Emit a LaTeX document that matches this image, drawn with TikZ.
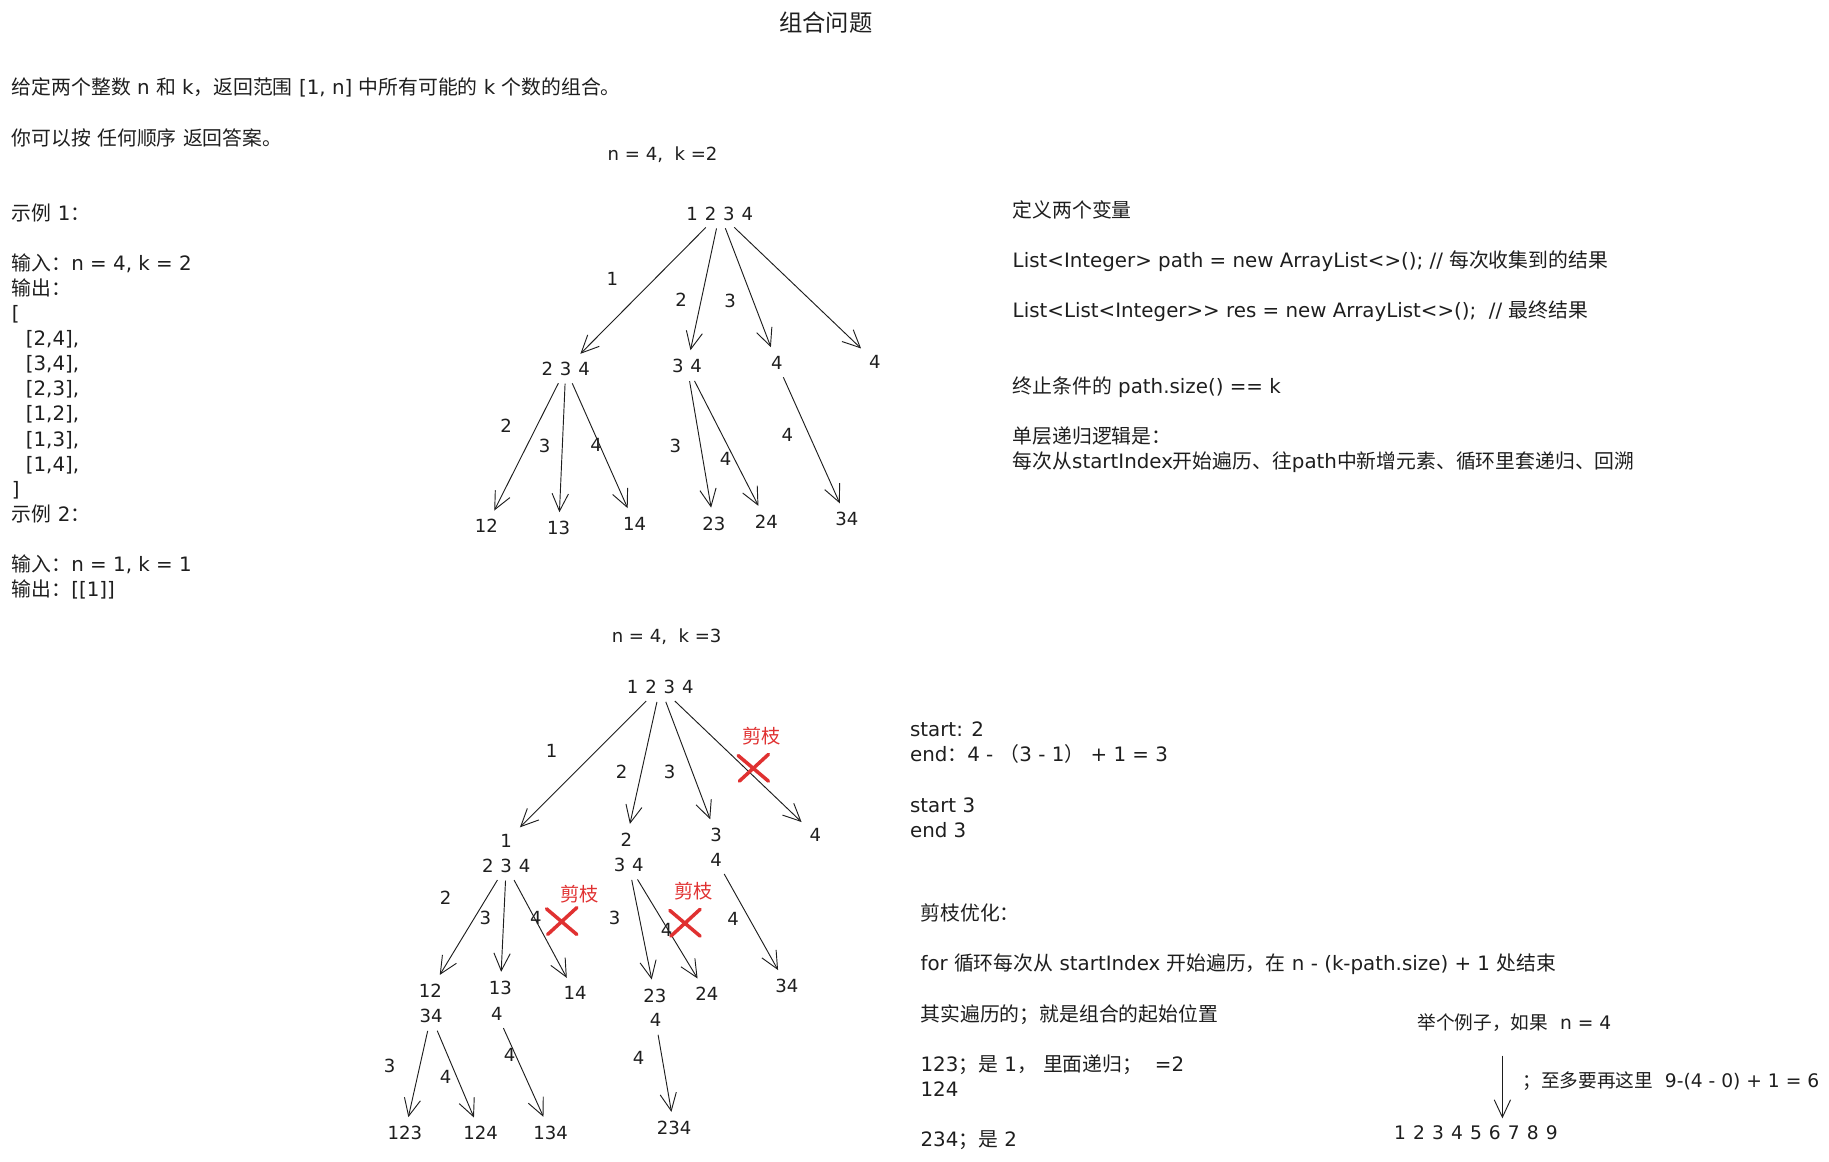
\documentclass[tikz,border=0pt]{standalone}
\usepackage{fontspec}
\setmainfont{DejaVu Sans}
\newfontfamily\cjkfont{Noto Sans CJK SC}
% switch to the CJK family for CJK characters and full-width punctuation
\XeTeXinterchartokenstate=1
\newXeTeXintercharclass\cjkclass
\newcount\cjkcode
\def\setcjkrange#1#2{\cjkcode=#1\relax
  \loop\XeTeXcharclass\cjkcode=\cjkclass\relax
  \ifnum\cjkcode<#2\advance\cjkcode by 1\repeat}
\setcjkrange{"3000}{"303F}
\setcjkrange{"4E00}{"9FFF}
\setcjkrange{"FF00}{"FFEF}
\XeTeXinterchartoks 0 \cjkclass = {\cjkfont}
\XeTeXinterchartoks 4095 \cjkclass = {\cjkfont}
\XeTeXinterchartoks \cjkclass 0 = {\normalfont}
\XeTeXinterchartoks \cjkclass 4095 = {\normalfont}
\usetikzlibrary{arrows.meta}
\definecolor{ink}{HTML}{1E1E1E}
\definecolor{cutred}{HTML}{E03131}
\newcommand\gap{\hspace{0.38em}}
\tikzset{
  txt/.style={font=\fontsize{17}{21.5}\selectfont, text=ink, inner sep=0pt, anchor=north west, align=left},
  line/.style={font=\fontsize{16}{21.5}\selectfont, text=ink, inner sep=0pt, anchor=west},
  num/.style={font=\fontsize{15.5}{20}\selectfont, text=ink, inner sep=1pt, outer sep=3pt},
  arr/.style={draw=ink, line width=0.8pt, -{Straight Barb[length=15pt,width=14pt]}, shorten <=3pt, shorten >=4pt},
  cut/.style={draw=cutred, line width=3pt, line cap=round},
  cutlbl/.style={font=\fontsize{16.5}{20}\selectfont, text=cutred, inner sep=0pt},
}
\begin{document}
\begin{tikzpicture}[x=1pt,y=-1pt]
\useasboundingbox (0,0) rectangle (1568,996);
\node[font=\fontsize{20}{24}\selectfont, text=ink] (title) at (708,19) {组合问题};

% problem statement
\node[txt] (intro) at (10,66.8) {给定两个整数 n 和 k，返回范围 [1, n] 中所有可能的 k 个数的组合。\\
\\
你可以按 任何顺序 返回答案。\\
\\
\\
示例 1：\\
\\
输入：n = 4, k = 2\\
输出：\\
{[}\\
\hspace*{12pt}{[}2,4],\\
\hspace*{12pt}{[}3,4],\\
\hspace*{12pt}{[}2,3],\\
\hspace*{12pt}{[}1,2],\\
\hspace*{12pt}{[}1,3],\\
\hspace*{12pt}{[}1,4],\\
]\\
示例 2：\\
\\
输入：n = 1, k = 1\\
输出：[[1]]};

\node[txt] (vars) at (868,171.8) {定义两个变量\\
\\
List<Integer> path = new ArrayList<>(); // 每次收集到的结果\\
\\
List<List<Integer>{}> res = new ArrayList<>();\ \ // 最终结果\\
\\
\\
终止条件的 path.size() == k\\
\\
单层递归逻辑是：\\
每次从startIndex开始遍历、往path中新增元素、循环里套递归、回溯};

\node[txt] (bounds) at (780,618.8) {start: 2\\
end：4 -\ （3 - 1）\ + 1 = 3\\
\\
start 3\\
end 3};

\node[txt] (prune) at (789,774.8) {剪枝优化：\\
\\
for 循环每次从 startIndex 开始遍历，在 n - (k-path.size) + 1 处结束\\
\\
其实遍历的；就是组合的起始位置\\
\\
123；是 1，\ 里面递归；\ \ =2\\
124\\
\\
234；是 2};

\node[line] (ex) at (1215,877) {举个例子，如果\ \ n = 4};
\node[line] (most) at (1305,927) {；至多要再这里\ \ 9-(4 - 0) + 1 = 6};
\node[line] (nums) at (1195,971) {1\gap2\gap3\gap4\gap5\gap6\gap7\gap8\gap9};
\coordinate (down) at (1288,905);
\draw[arr, shorten <=0pt, shorten >=6pt] (down) -- (down |- nums.north);

% tree n=4, k=2
\node[num] (k2) at (568,133) {n = 4,\ \ k =2};
\node[num] (r1) at (617,183) {1\gap2\gap3\gap4};
\node[num] (a1) at (485,316) {2\gap3\gap4};
\node[num] (a2) at (589,314) {3\gap4};
\node[num] (a3) at (666,311) {4};
\node[num] (a4) at (750,310) {4};
\node[num] (b1) at (417,451) {12};
\node[num] (b2) at (479,453) {13};
\node[num] (b3) at (544,449) {14};
\node[num] (b4) at (612,449) {23};
\node[num] (b5) at (657,447) {24};
\node[num] (b6) at (726,445) {34};
\draw[arr] (r1) -- (a1);
\draw[arr] (r1) -- (a2);
\draw[arr] (r1) -- (a3);
\draw[arr] (r1) -- (a4);
\draw[arr] (a1) -- (b1);
\draw[arr] (a1) -- (b2);
\draw[arr] (a1) -- (b3);
\draw[arr] (a2) -- (b4);
\draw[arr] (a2) -- (b5);
\draw[arr] (a3) -- (b6);
\node[num] (ra1) at (525,239) {1};
\node[num] (ra2) at (584,257) {2};
\node[num] (ra3) at (626,258) {3};
\node[num] (ab1) at (434,365) {2};
\node[num] (ab2) at (467,382) {3};
\node[num] (ab3) at (511,381) {4};
\node[num] (ab4) at (579,382) {3};
\node[num] (ab5) at (622,393) {4};
\node[num] (ab6) at (675,373) {4};

% tree n=4, k=3
\node[num] (k3) at (571.5,546) {n = 4,\ \ k =3};
\node[num] (r2) at (566,589) {1\gap2\gap3\gap4};
\node[num] (p1) at (434,721) {1};
\node[num] (q1) at (434,742) {2\gap3\gap4};
\node[num] (p2) at (537,720) {2};
\node[num] (q2) at (539,741.5) {3\gap4};
\node[num] (p3) at (614,716) {3};
\node[num] (q3) at (614,737) {4};
\node[num] (p4) at (699,716) {4};
\node[num] (s1) at (369,849) {12};
\node[num] (t1) at (369.5,871) {34};
\node[num] (s2) at (429,847) {13};
\node[num] (t2) at (426,869) {4};
\node[num] (s3) at (493,851.5) {14};
\node[num] (s4) at (561.5,853.5) {23};
\node[num] (t4) at (562,874.5) {4};
\node[num] (s5) at (606,852) {24};
\node[num] (s6) at (674.5,845) {34};
\node[num] (u1) at (347,971.5) {123};
\node[num] (u2) at (412,971.5) {124};
\node[num] (u3) at (472,971) {134};
\node[num] (u4) at (578,967) {234};
\draw[arr] (r2) -- (p1);
\draw[arr] (r2) -- (p2);
\draw[arr] (r2) -- (p3);
\draw[arr] (r2) -- (p4);
\draw[arr] (q1) -- (s1);
\draw[arr] (q1) -- (s2);
\draw[arr] (q1) -- (s3);
\draw[arr] (q2) -- (s4);
\draw[arr] (q2) -- (s5);
\draw[arr] (q3) -- (s6);
\draw[arr] (t1) -- (u1);
\draw[arr] (t1) -- (u2);
\draw[arr] (t2) -- (u3);
\draw[arr] (t4) -- (u4);
\node[num] (rp1) at (473,643.5) {1};
\node[num] (rp2) at (533,661.5) {2};
\node[num] (rp3) at (574,662) {3};
\node[num] (qs1) at (382,769.5) {2};
\node[num] (qs2) at (416,787) {3};
\node[num] (qs3) at (459.5,787) {4};
\node[num] (qs4) at (527,787) {3};
\node[num] (qs5) at (571.5,797) {4};
\node[num] (qs6) at (628.6,788) {4};
\node[num] (tu1) at (334,913.6) {3};
\node[num] (tu2) at (382,923) {4};
\node[num] (tu3) at (437,904) {4};
\node[num] (tu4) at (547.5,907) {4};

% pruned branches
\draw[cut] (645.8,658.7) +(-13,-11) -- +(13,11) (645.8,658.7) +(13,-12) -- +(-12,11);
\draw[cut] (481.5,790.1) +(-13,-11) -- +(13,11) (481.5,790.1) +(13,-12) -- +(-12,11);
\draw[cut] (587.2,791.5) +(-13,-11) -- +(13,11) (587.2,791.5) +(13,-12) -- +(-12,11);
\node[cutlbl] (cut1) at (653,631.5) {剪枝};
\node[cutlbl] (cut2) at (496.6,766.4) {剪枝};
\node[cutlbl] (cut3) at (594.4,764.4) {剪枝};
\end{tikzpicture}
\end{document}
